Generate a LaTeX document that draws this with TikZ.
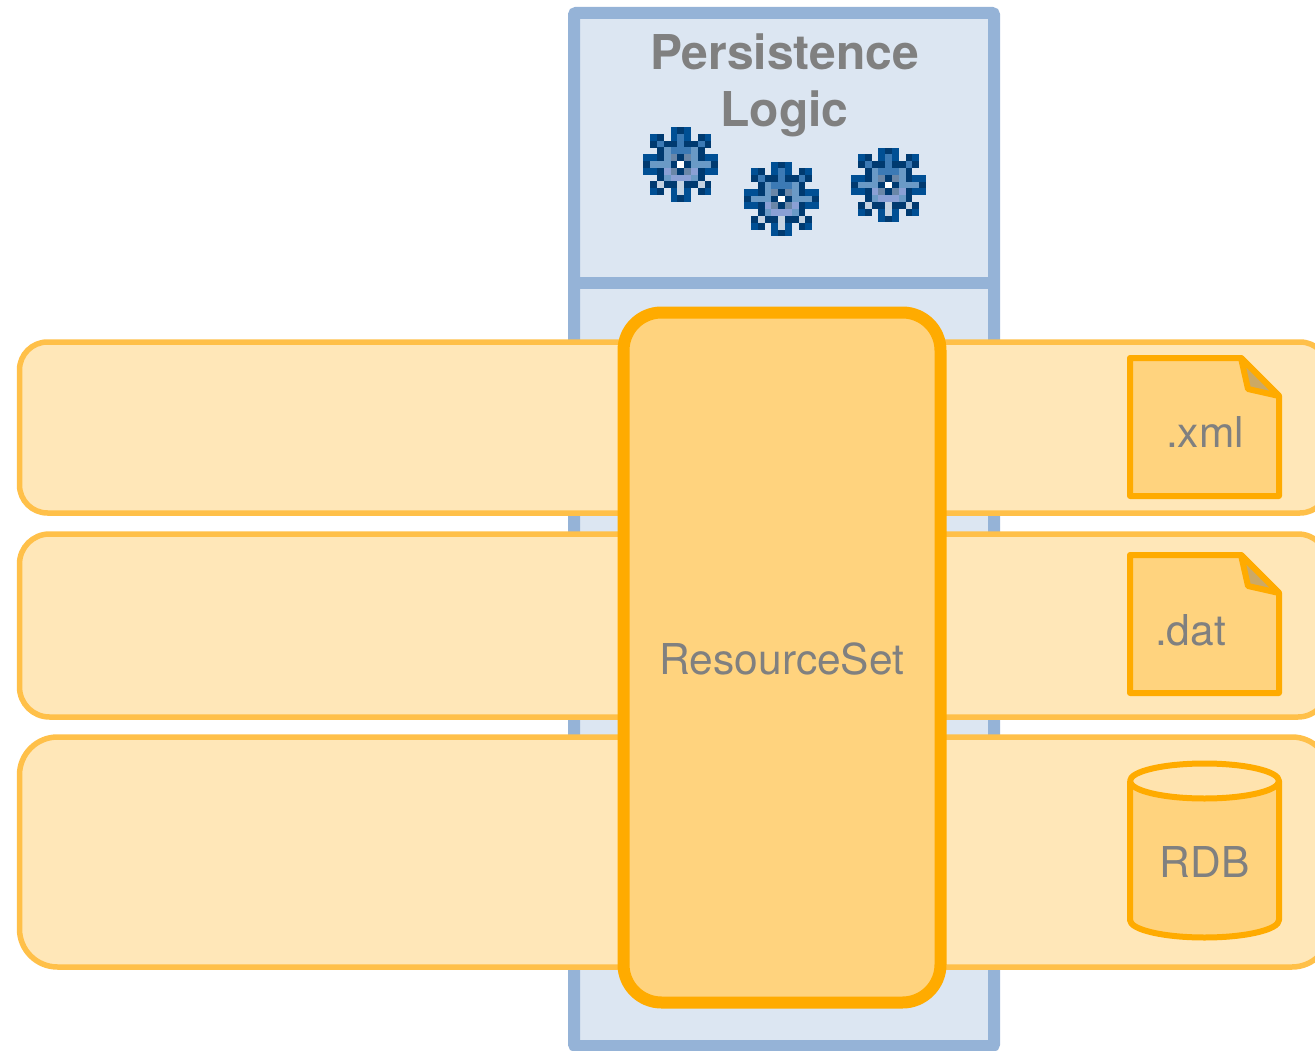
\documentclass[tikz,border=0pt]{standalone}
\usepackage{fontspec}
\setmainfont{TeX Gyre Heros}
\definecolor{blueline}{HTML}{95B3D7}
\definecolor{bluefill}{HTML}{DCE6F2}
\definecolor{barline}{HTML}{FFC049}
\definecolor{barfill}{HTML}{FFE7B8}
\definecolor{coreline}{HTML}{FFAB00}
\definecolor{corefill}{HTML}{FFD37E}
\definecolor{foldfill}{HTML}{CCA965}
\definecolor{lidfill}{HTML}{FFE3AE}
\definecolor{txt}{HTML}{808080}
\definecolor{gD}{HTML}{003A70}
\definecolor{gB}{HTML}{004F94}
\definecolor{gM}{HTML}{3C7AB5}
\definecolor{gL}{HTML}{6A9AC6}
\definecolor{gG}{HTML}{6A87A8}
\definecolor{gP}{HTML}{8AA0D5}
\definecolor{gS}{HTML}{C5D3E2}
\definecolor{gW}{HTML}{FFFFFF}
\tikzset{
  x=1pt,y=-1pt,
  panel/.style={draw=blueline,fill=bluefill,line width=12pt,rounded corners=2pt},
  bar/.style={draw=barline,fill=barfill,line width=5.5pt},
  core/.style={draw=coreline,fill=corefill,line width=12pt,rounded corners=38pt},
  store/.style={draw=coreline,fill=corefill,line width=6pt,line join=round},
  title/.style={text=txt,font=\bfseries\fontsize{48}{50}\selectfont,anchor=base,inner sep=0pt},
  label/.style={text=txt,font=\fontsize{42.5}{44}\selectfont,anchor=base,inner sep=0pt},
  pics/gear/.style={code={
    \foreach \r/\c/\k in {
      0/4/gB,0/5/gD,0/6/gB,
      1/1/gB,1/2/gD,1/4/gB,1/5/gM,1/6/gB,1/8/gD,1/9/gB,
      2/1/gD,2/2/gM,2/3/gD,2/4/gD,2/5/gM,2/6/gD,2/7/gD,2/8/gM,2/9/gD,
      3/2/gD,3/3/gL,3/4/gM,3/5/gM,3/6/gM,3/7/gL,3/8/gD,
      4/0/gB,4/1/gB,4/2/gD,4/3/gL,4/4/gG,4/5/gD,4/6/gG,4/7/gL,4/8/gD,4/9/gB,4/10/gB,
      5/0/gD,5/1/gL,5/2/gL,5/3/gL,5/4/gD,5/5/gW,5/6/gD,5/7/gL,5/8/gL,5/9/gL,5/10/gD,
      6/0/gB,6/1/gB,6/2/gD,6/3/gP,6/4/gG,6/5/gD,6/6/gG,6/7/gP,6/8/gD,6/9/gB,6/10/gB,
      7/2/gD,7/3/gL,7/4/gP,7/5/gP,7/6/gP,7/7/gL,7/8/gD,
      8/1/gD,8/2/gS,8/3/gD,8/4/gD,8/5/gS,8/6/gD,8/7/gD,8/8/gS,8/9/gD,
      9/1/gB,9/2/gD,9/4/gB,9/5/gS,9/6/gB,9/8/gD,9/9/gB,
      10/4/gB,10/5/gD,10/6/gB}
      {\fill[\k] ({(\c-5.5)*6.8},{(\r-5.5)*6.8}) rectangle ++(6.9,6.9);}
  }},
}
\begin{document}
\begin{tikzpicture}
\useasboundingbox (0,0) rectangle (1315,1051);
\clip (0,0) rectangle (1315,1051);
% blue panel
\draw[panel] (574,13) rectangle (994,1046);
\draw[panel,rounded corners=0pt,fill=none] (574,283) -- (994,283);
\node[title] (t1) at (784.5,69.5) {Persistence};
\node[title] (t2) at (784.5,126.5) {Logic};
\pic at (680.7,164.5) {gear};
\pic at (781.5,199) {gear};
\pic at (888.5,185) {gear};
% bars
\draw[bar,rounded corners=28pt] (19.5,342) rectangle (1328,513);
\draw[bar,rounded corners=30pt] (19.5,534) rectangle (1328,717);
\draw[bar,rounded corners=38pt] (19.5,737) rectangle (1330,967);
% core
\draw[core] (623.5,312.5) rectangle (940.5,1002.5);
\node[label] (rs) at (782,674.5) {ResourceSet};
% xml document
\draw[store] (1130,358) -- (1241,358) -- (1279,396) -- (1279,496) -- (1130,496) -- cycle;
\draw[store,fill=foldfill] (1241,358) -- (1248,389) -- (1279,396) -- cycle;
\node[label] (xml) at (1205,447.5) {.xml};
% dat document
\draw[store] (1130,555) -- (1241,555) -- (1279,593) -- (1279,693) -- (1130,693) -- cycle;
\draw[store,fill=foldfill] (1241,555) -- (1248,586) -- (1279,593) -- cycle;
\node[label] (dat) at (1190.5,645.5) {.dat};
% cylinder
\draw[store] (1130,781) -- (1130,920) arc[start angle=180,end angle=0,x radius=74.5,y radius=17.5] -- (1279,781);
\draw[store,fill=lidfill] (1204.5,781) ellipse[x radius=74.5,y radius=17.5];
\node[label] (rdb) at (1204.5,877.5) {RDB};
\end{tikzpicture}
\end{document}
